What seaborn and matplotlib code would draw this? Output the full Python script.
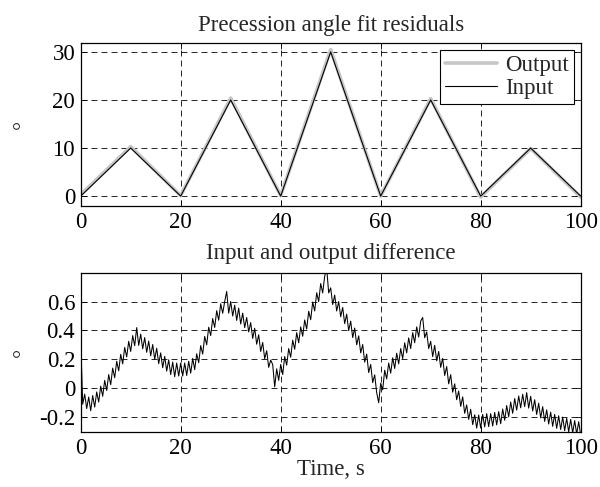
import numpy as np
import pandas as pd
import matplotlib
matplotlib.use("Agg")
import matplotlib.pyplot as plt
import seaborn as sns

# ---------------- data ----------------
knot_time = [0, 10, 20, 30, 40, 50, 60, 70, 80, 90, 100]
input_angle = [0, 10, 0, 20, 0, 30, 0, 20, 0, 10, 0]
output_angle = [0.3, 10.3, 0.1, 20.4, 0.1, 30.5, 0.0, 20.3, -0.2, 9.9, -0.2]

diff_time = [round(i * 0.4, 1) for i in range(251)]
diff_values = [
    0.35, -0.11, -0.04, -0.14, -0.06, -0.155, -0.05, -0.13, -0.025, -0.095,
    0.015, -0.055, 0.055, -0.015, 0.095, 0.025, 0.14, 0.073, 0.187, 0.121,
    0.235, 0.169, 0.283, 0.217, 0.325, 0.255, 0.365, 0.295, 0.42, 0.297,
    0.375, 0.273, 0.351, 0.249, 0.327, 0.225, 0.303, 0.201, 0.277, 0.171,
    0.245, 0.143, 0.221, 0.119, 0.197, 0.095, 0.181, 0.08, 0.175, 0.085,
    0.175, 0.085, 0.175, 0.089, 0.187, 0.105, 0.207, 0.129, 0.239, 0.177,
    0.295, 0.237, 0.359, 0.301, 0.423, 0.365, 0.483, 0.421, 0.537, 0.471,
    0.585, 0.519, 0.60, 0.67, 0.52, 0.60, 0.50, 0.575, 0.47, 0.555,
    0.445, 0.52, 0.42, 0.49, 0.39, 0.455, 0.345, 0.415, 0.305, 0.37,
    0.255, 0.317, 0.205, 0.26, 0.145, 0.195, 0.165, 0.01, 0.135, 0.055,
    0.165, 0.095, 0.22, 0.16, 0.275, 0.215, 0.333, 0.27, 0.385, 0.315,
    0.425, 0.36, 0.473, 0.41, 0.533, 0.475, 0.597, 0.535, 0.661, 0.60,
    0.725, 0.66, 0.775, 0.83, 0.66, 0.695, 0.58, 0.645, 0.535, 0.60,
    0.495, 0.56, 0.447, 0.513, 0.399, 0.465, 0.351, 0.417, 0.301, 0.363,
    0.245, 0.303, 0.181, 0.237, 0.109, 0.165, 0.039, 0.093, -0.03, -0.10,
    0.035, -0.01, 0.125, 0.065, 0.175, 0.105, 0.211, 0.137, 0.243, 0.169,
    0.275, 0.205, 0.315, 0.245, 0.349, 0.275, 0.385, 0.315, 0.425, 0.355,
    0.465, 0.49, 0.35, 0.39, 0.275, 0.325, 0.219, 0.297, 0.19, 0.255,
    0.145, 0.207, 0.089, 0.151, 0.031, 0.095, -0.027, 0.031, -0.079, -0.019,
    -0.125, -0.059, -0.173, -0.115, -0.215, -0.145, -0.251, -0.183, -0.275, -0.185,
    -0.275, -0.181, -0.267, -0.175, -0.265, -0.175, -0.261, -0.167, -0.253, -0.161,
    -0.245, -0.143, -0.221, -0.119, -0.197, -0.095, -0.173, -0.071, -0.151, -0.053,
    -0.135, -0.041, -0.127, -0.03, -0.137, -0.055, -0.157, -0.079, -0.181, -0.103,
    -0.205, -0.127, -0.229, -0.149, -0.247, -0.165, -0.263, -0.181, -0.277, -0.19,
    -0.285, -0.199, -0.293, -0.207, -0.301, -0.215, -0.309, -0.223, -0.317, -0.231,
    -0.325,
]

top_title = "Precession angle fit residuals"
bottom_title = "Input and output difference"
x_label = "Time, s"
y_label = "°"
x_ticks = [0, 20, 40, 60, 80, 100]
top_yticks = [0, 10, 20, 30]
bottom_yticks = [-0.2, 0, 0.2, 0.4, 0.6]
bottom_ytick_labels = ["-0.2", "0", "0.2", "0.4", "0.6"]

# ---------------- style ----------------
sns.set_theme(style="ticks")
plt.rcParams["font.family"] = ["Liberation Serif", "DejaVu Serif"]
plt.rcParams["lines.scale_dashes"] = False
FS = 16.5

fig = plt.figure(figsize=(6.0, 4.87), dpi=100)
ax1 = fig.add_axes([0.1345, 0.5776, 0.8333, 0.3335])
ax2 = fig.add_axes([0.1345, 0.1136, 0.8333, 0.3265])

top_df = pd.DataFrame({"t": knot_time, "Output": output_angle, "Input": input_angle})
diff_df = pd.DataFrame({"t": diff_time, "d": diff_values})

sns.lineplot(data=top_df, x="t", y="Output", ax=ax1, color="#c6c6c6",
             linewidth=2.6, label="Output")
sns.lineplot(data=top_df, x="t", y="Input", ax=ax1, color="black",
             linewidth=0.8, label="Input")
sns.lineplot(data=diff_df, x="t", y="d", ax=ax2, color="black", linewidth=0.75)

for ax in (ax1, ax2):
    ax.set_xlim(0, 100)
    ax.set_xticks(x_ticks)
    ax.grid(True, color="black", linestyle=(0, (4.3, 2.9)), linewidth=0.6)
    ax.tick_params(direction="in", length=4, width=0.6, top=True, right=True,
                   labelsize=FS, colors="black")
    ax.tick_params(axis="x", pad=4.5)
    ax.tick_params(axis="y", pad=4)
    for s in ax.spines.values():
        s.set_color("black")
        s.set_linewidth(0.9)
    ax.set_xlabel("")
    ax.set_ylabel("")

ax1.set_ylim(-2, 31.8)
ax1.set_yticks(top_yticks)
ax2.set_ylim(-0.3, 0.8)
ax2.set_yticks(bottom_yticks)
ax2.set_yticklabels(bottom_ytick_labels)

ax1.set_title(top_title, fontsize=FS, pad=9)
ax2.set_title(bottom_title, fontsize=FS, pad=10)
ax2.set_xlabel(x_label, fontsize=FS, labelpad=0)

for ax in (ax1, ax2):
    ax.set_ylabel(y_label, fontsize=FS, rotation=90)
    ax.yaxis.set_label_coords(-0.094, 0.5)

leg = ax1.legend(loc="upper right", fontsize=FS, frameon=True, fancybox=False,
                 edgecolor="black", framealpha=1, handlelength=2.3,
                 borderpad=0.2, labelspacing=0.1, handletextpad=0.35,
                 borderaxespad=0.3)
leg.get_frame().set_linewidth(0.8)

fig.savefig("out.png", dpi=100)
